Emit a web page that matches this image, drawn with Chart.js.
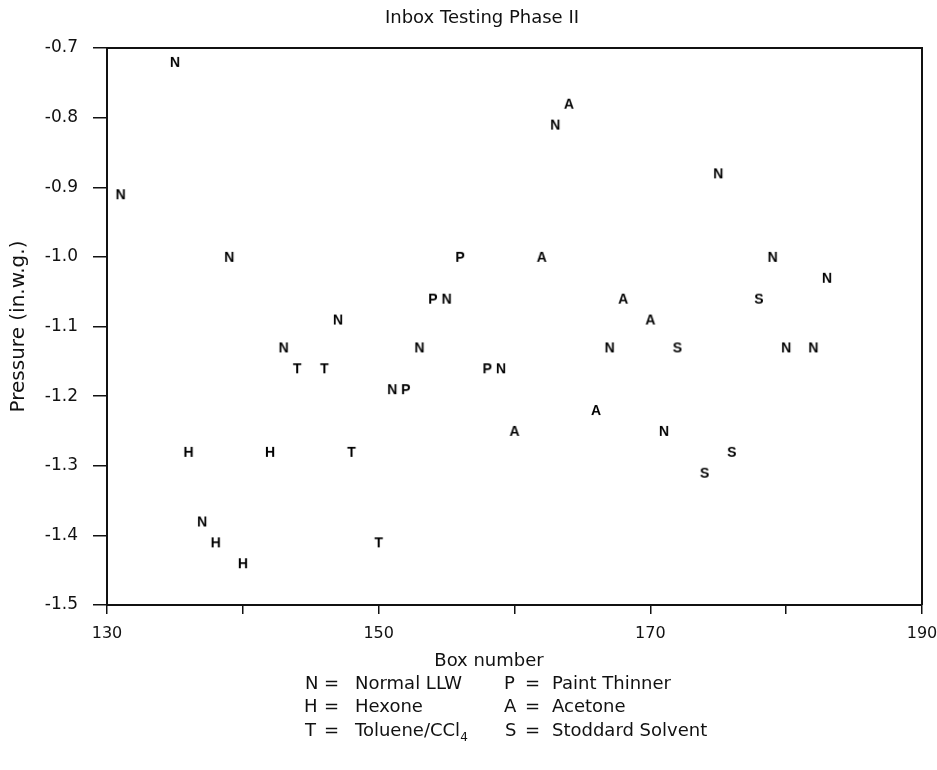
<!DOCTYPE html>
<html>
<head>
<meta charset="utf-8">
<title>Inbox Testing Phase II</title>
<script src="https://cdn.jsdelivr.net/npm/chart.js@4.4.1/dist/chart.umd.min.js"></script>
<style>
  html, body { margin: 0; padding: 0; background: #fff; }
  #wrap { position: relative; width: 937px; height: 770px; }
  #chart { position: absolute; left: 0; top: 0; }
  .key { position: absolute; font: 18px "DejaVu Sans", sans-serif; color: #111; white-space: nowrap; line-height: 24px; }
  .key sub { font-size: 12px; vertical-align: -5px; line-height: 0; }
</style>
</head>
<body>
<div id="wrap">
  <canvas id="chart" width="937" height="770"></canvas>

  <div class="key" style="left:305px;top:671px">N</div>
  <div class="key" style="left:324px;top:671px">=</div>
  <div class="key" style="left:355px;top:671px">Normal LLW</div>
  <div class="key" style="left:304px;top:694px">H</div>
  <div class="key" style="left:324px;top:694px">=</div>
  <div class="key" style="left:355px;top:694px">Hexone</div>
  <div class="key" style="left:305px;top:718px">T</div>
  <div class="key" style="left:324px;top:718px">=</div>
  <div class="key" style="left:355px;top:718px">Toluene/CCl<sub>4</sub></div>

  <div class="key" style="left:504px;top:671px">P</div>
  <div class="key" style="left:525px;top:671px">=</div>
  <div class="key" style="left:552px;top:671px">Paint Thinner</div>
  <div class="key" style="left:504px;top:694px">A</div>
  <div class="key" style="left:525px;top:694px">=</div>
  <div class="key" style="left:552px;top:694px">Acetone</div>
  <div class="key" style="left:505px;top:718px">S</div>
  <div class="key" style="left:525px;top:718px">=</div>
  <div class="key" style="left:552px;top:718px">Stoddard Solvent</div>
</div>

<script>
// [box number, pressure (in.w.g.)]
const normalLLW = [
  [135, -0.72], [131, -0.91], [139, -1.00], [163, -0.81], [175, -0.88],
  [179, -1.00], [183, -1.03], [155, -1.06], [147, -1.09], [143, -1.13],
  [153, -1.13], [151, -1.19], [159, -1.16], [167, -1.13], [180, -1.13],
  [182, -1.13], [171, -1.25], [137, -1.38]
];
const paintThinner = [[156, -1.00], [154, -1.06], [152, -1.19], [158, -1.16]];
const acetone = [[162, -1.00], [164, -0.78], [168, -1.06], [170, -1.09], [166, -1.22], [160, -1.25]];
const stoddard = [[178, -1.06], [172, -1.13], [176, -1.28], [174, -1.31]];
const hexone = [[136, -1.28], [142, -1.28], [138, -1.41], [140, -1.44]];
const toluene = [[144, -1.16], [146, -1.16], [148, -1.28], [150, -1.41]];

const xTicks = [130, 150, 170, 190];

const ink = '#111';

// small canvas with a bold letter, used as the point style
function letterMark(ch) {
  const c = document.createElement('canvas');
  c.width = 18;
  c.height = 18;
  const g = c.getContext('2d');
  g.fillStyle = '#000';
  g.font = 'bold 14px "Liberation Sans", Arial, sans-serif';
  g.textAlign = 'center';
  g.textBaseline = 'alphabetic';
  g.fillText(ch, 9, 14);
  return c;
}

function series(label, code, pts) {
  return {
    label: label,
    data: pts.map(p => ({ x: p[0], y: p[1] })),
    pointStyle: letterMark(code),
    pointRadius: 6,
    pointHoverRadius: 6,
    showLine: false
  };
}

// top and right edges of the plot frame
const frame = {
  id: 'frame',
  afterDraw(chart) {
    const { ctx, chartArea: a } = chart;
    ctx.save();
    ctx.strokeStyle = ink;
    ctx.lineWidth = 2;
    ctx.beginPath();
    ctx.moveTo(a.left, a.top);
    ctx.lineTo(a.right, a.top);
    ctx.lineTo(a.right, a.bottom);
    ctx.stroke();
    ctx.restore();
  }
};

// chart title and x axis title sit off-centre in the original, so place them by hand
const captions = {
  id: 'captions',
  afterDraw(chart) {
    const ctx = chart.ctx;
    ctx.save();
    ctx.fillStyle = ink;
    ctx.font = '18px "DejaVu Sans", sans-serif';
    ctx.textAlign = 'center';
    ctx.textBaseline = 'alphabetic';
    ctx.fillText('Inbox Testing Phase II', 482, 23);
    ctx.fillText('Box number', 489, 666);
    ctx.restore();
  }
};

new Chart(document.getElementById('chart'), {
  type: 'scatter',
  data: {
    datasets: [
      series('Normal LLW', 'N', normalLLW),
      series('Paint Thinner', 'P', paintThinner),
      series('Acetone', 'A', acetone),
      series('Stoddard Solvent', 'S', stoddard),
      series('Hexone', 'H', hexone),
      series('Toluene/CCl4', 'T', toluene)
    ]
  },
  options: {
    responsive: false,
    animation: false,
    events: [],
    layout: { padding: { top: 48, left: 0, right: 15, bottom: 99 } },
    plugins: {
      legend: { display: false },
      tooltip: { enabled: false }
    },
    scales: {
      x: {
        type: 'linear',
        min: 130,
        max: 190,
        afterFit: s => {
          s.height = 66;
          s.paddingLeft = 0;
          s.paddingRight = 15;
        },
        ticks: {
          stepSize: 10,
          color: ink,
          padding: 10,
          maxRotation: 0,
          font: { family: 'DejaVu Sans', size: 16 },
          callback: v => xTicks.includes(v) ? String(v) : ''
        },
        grid: { drawOnChartArea: false, drawTicks: true, tickLength: 9, color: ink, lineWidth: 1.5 },
        border: { display: true, color: ink, width: 2 },
        title: { display: false, text: 'Box number' }
      },
      y: {
        min: -1.5,
        max: -0.7,
        afterFit: s => { s.width = 107; },
        ticks: {
          stepSize: 0.1,
          color: ink,
          padding: 15,
          font: { family: 'DejaVu Sans', size: 17 },
          callback: v => v.toFixed(1)
        },
        grid: { drawOnChartArea: false, drawTicks: true, tickLength: 14, color: ink, lineWidth: 1.5 },
        border: { display: true, color: ink, width: 2 },
        title: {
          display: true,
          text: 'Pressure (in.w.g.)',
          color: ink,
          font: { family: 'DejaVu Sans', size: 20 },
          padding: { top: 7, bottom: 0 }
        }
      }
    }
  },
  plugins: [frame, captions]
});
</script>
</body>
</html>
